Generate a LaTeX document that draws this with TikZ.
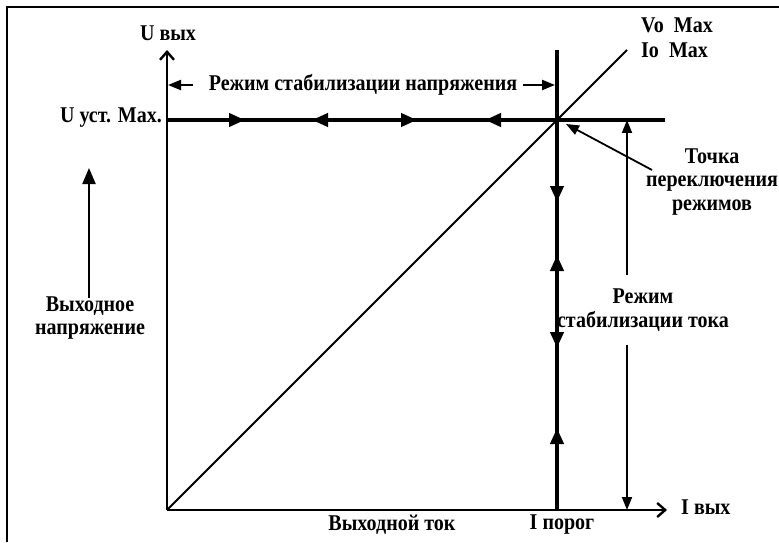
\documentclass[tikz,border=0pt]{standalone}
\usepackage{fontspec}
\setmainfont{Liberation Serif}[FakeStretch=0.89]
\usetikzlibrary{arrows.meta}
\tikzset{
  lbl/.style={font=\bfseries\fontsize{22.5}{23.5}\selectfont, inner sep=1pt},
  thickseg/.style={line width=4.6pt},
  tip/.style={-{Triangle[length=16pt,width=13pt]}},
  thintip/.style={-{Triangle[length=13pt,width=10pt]}},
  axis/.style={line width=2.4pt,-{Straight Barb[length=8pt,width=14pt,line width=2.4pt]}}
}
\begin{document}
\begin{tikzpicture}[x=1pt,y=1pt]
\useasboundingbox (0,0) rectangle (779,542);
% frame
\draw[line width=2.2pt] (7,0) -- (7,535) -- (779,535);
% key points
\coordinate (O) at (167,32);
\coordinate (ytop) at (167,492);
\coordinate (xtip) at (667,32);
\coordinate (S) at (557,422);
\coordinate (hend) at (665,422);
\coordinate (vtop) at (557,492);
\coordinate (vbot) at (557,32);
\coordinate (dend) at (627,492);
% axes
\draw[axis] (O) -- (ytop);
\draw[axis] (O) -- (xtip);
\node[lbl] (uout) at (168,509) {U вых};
\node[lbl, anchor=west] (iout) at (680,35) {I вых};
% diagonal
\draw[line width=1.8pt] (O) -- (dend);
\node[lbl, anchor=west] (vomax) at (640,517) {Vo\ \ Max};
\node[lbl, anchor=west] (iomax) at (640,492) {Io\ \ Max};
% voltage mode line
\draw[line width=3.6pt] (167,422) -- (hend);
\draw[thickseg, tip] (167,422) -- (245,422);
\draw[thickseg, tip] (365,422) -- (312,422);
\draw[thickseg, tip] (365,422) -- (417,422);
\draw[thickseg, tip] (S) -- (485,422);
\draw[thickseg] (S) -- (hend);
\node[lbl, anchor=east] (uset) at (163,424) {U уст. Max.};
% current mode line
\draw[line width=3.6pt] (vtop) -- (vbot);
\draw[thickseg] (vtop) -- (S);
\draw[thickseg, tip] (S) -- (557,340);
\draw[thickseg, tip] (557,240) -- (557,287);
\draw[thickseg, tip] (557,240) -- (557,194);
\draw[thickseg, tip] (vbot) -- (557,114);
% mode labels
\node[lbl] (vmode) at (363,457) {Режим стабилизации напряжения};
\coordinate (vl) at (193,457);
\coordinate (vr) at (523,457);
\draw[line width=2.2pt, thintip] (vl) -- (168,457);
\draw[line width=2.2pt, thintip] (vr) -- (555,457);
\node[lbl, align=center] (imode) at (643,232) {Режим\\стабилизации тока};
\coordinate (iu) at (627,267);
\coordinate (id) at (627,197);
\draw[line width=1.8pt, thintip] (iu) -- (627,422);
\draw[line width=1.8pt, thintip] (id) -- (627,32);
% switching point
\node[lbl, align=center] (swpt) at (712,360) {Точка\\переключения\\режимов};
\coordinate (sw) at (652,372);
\draw[line width=1.8pt, thintip] (sw) -- (566,418);
% output voltage
\node[lbl, align=center] (uvolt) at (90,224) {Выходное\\напряжение};
\coordinate (uv) at (89,244);
\draw[line width=2.2pt, tip] (uv) -- (89,374);
% bottom labels
\node[lbl] (icur) at (392,17) {Выходной ток};
\node[lbl] (ithr) at (562,17) {I порог};
\end{tikzpicture}
\end{document}
